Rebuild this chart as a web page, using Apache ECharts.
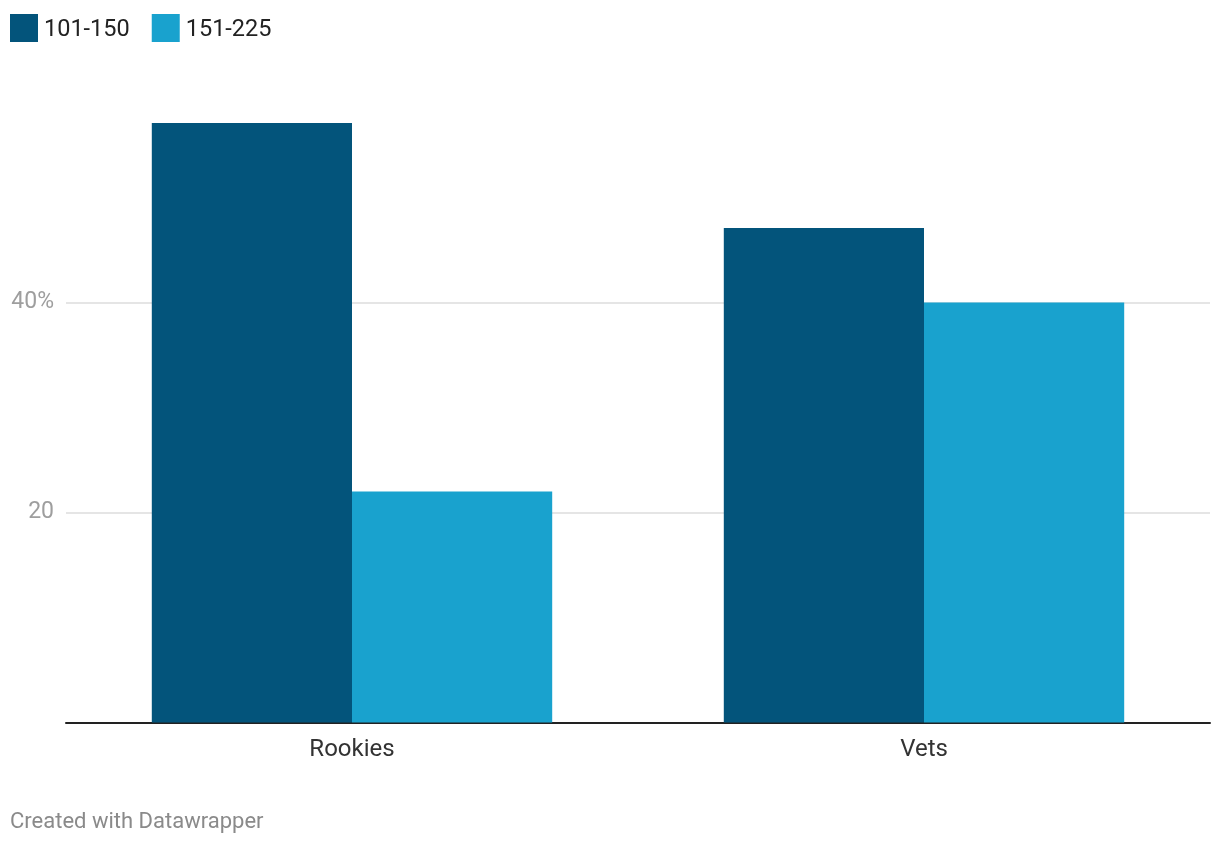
<!DOCTYPE html>
<html>
<head>
<meta charset="utf-8">
<script src="https://cdn.jsdelivr.net/npm/echarts@6/dist/echarts.min.js"></script>
<style>
html,body{margin:0;padding:0;background:#fff;}
#chart{width:1220px;height:844px;}
</style>
</head>
<body>
<div id="chart"></div>
<script>
const categories = ['Rookies', 'Vets'];
const seriesNames = ['101-150', '151-225'];
const values101_150 = [57.1, 47.1];
const values151_225 = [22.0, 40.0];
const yTicks = [0, 20, 40, 60];
const yTickLabels = {20: '20', 40: '40%'};

const chart = echarts.init(document.getElementById('chart'), null, {renderer: 'canvas'});
const font = 'Roboto, "Noto Sans", sans-serif';
chart.setOption({
  animation: false,
  backgroundColor: '#ffffff',
  textStyle: {fontFamily: font},
  legend: {
    left: 10, top: 14, padding: 0,
    itemWidth: 28, itemHeight: 28, itemGap: 22,
    icon: 'rect',
    formatter: '{t|{name}}',
    textStyle: {
      fontSize: 23.5, color: '#222222', fontFamily: font,
      rich: {t: {fontSize: 23.5, color: '#222222', fontFamily: font, padding: [4, 0, 0, 1]}}
    },
    data: seriesNames
  },
  grid: {left: 66, right: 10, top: 92.5, bottom: 121.5, containLabel: false},
  xAxis: {
    type: 'category',
    data: categories,
    axisLine: {show: true, lineStyle: {color: '#222222', width: 2}},
    axisTick: {show: false},
    axisLabel: {fontSize: 24, color: '#333333', margin: 15, fontFamily: font},
    splitLine: {show: false}
  },
  yAxis: {
    type: 'value',
    min: yTicks[0],
    max: yTicks[yTicks.length - 1],
    interval: 20,
    axisLine: {show: false},
    axisTick: {show: false},
    axisLabel: {
      fontSize: 23, color: '#9e9e9e', margin: 12, fontFamily: font,
      formatter: v => yTickLabels[v] || ''
    },
    splitLine: {show: true, showMinLine: false, showMaxLine: false, lineStyle: {color: '#e5e5e5', width: 2}}
  },
  series: [
    {name: seriesNames[0], type: 'bar', data: values101_150, barGap: '0%', barCategoryGap: '30%',
     itemStyle: {color: '#03547b'}},
    {name: seriesNames[1], type: 'bar', data: values151_225, barGap: '0%', barCategoryGap: '30%',
     itemStyle: {color: '#19a2ce'}}
  ],
  graphic: [{
    type: 'text', left: 10, top: 811,
    style: {text: 'Created with Datawrapper', fontSize: 22, fill: '#8a8a8a', fontFamily: font}
  }]
});
</script>
</body>
</html>
